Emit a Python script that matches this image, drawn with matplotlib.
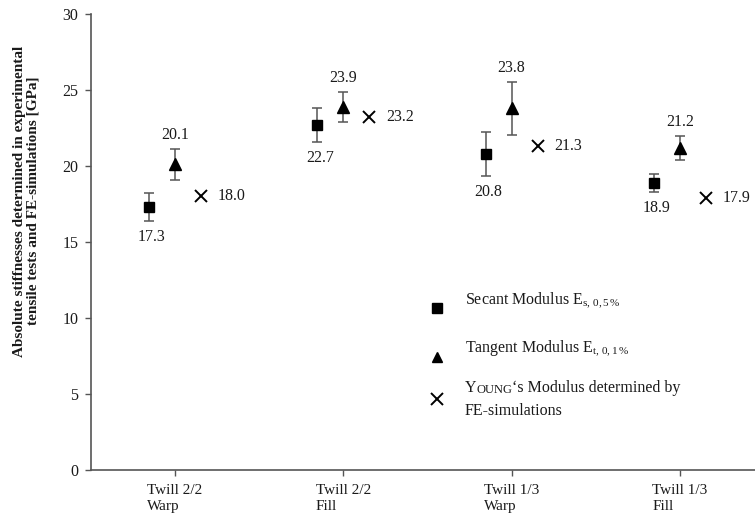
import matplotlib
matplotlib.use("Agg")
import matplotlib.pyplot as plt
import numpy as np

plt.rcParams['font.family'] = ['Liberation Serif', 'DejaVu Serif']
plt.rcParams['mathtext.fontset'] = 'custom'
plt.rcParams['mathtext.rm'] = 'Liberation Serif'
plt.rcParams['mathtext.it'] = 'Liberation Serif:italic'

# ---------------- data ----------------
categories = ["Twill 2/2\nWarp", "Twill 2/2\nFill", "Twill 1/3\nWarp", "Twill 1/3\nFill"]
secant = [17.3, 22.7, 20.8, 18.9]
secant_err = [0.9, 1.1, 1.45, 0.6]
tangent = [20.1, 23.9, 23.8, 21.2]
tangent_err = [1.05, 1.0, 1.75, 0.8]
young_fe = [18.0, 23.2, 21.3, 17.9]

# ---------------- layout ----------------
W, H = 755, 514
fig = plt.figure(figsize=(W / 100, H / 100), dpi=100)
ax = fig.add_axes([91 / W, 44 / H, (W - 91) / W, 456 / H])

group = np.arange(1, len(categories) + 1)
off = 0.155

ecol = '#555555'
ax.errorbar(group - off, secant, yerr=secant_err, fmt='s', color='black', ms=7,
            ecolor=ecol, elinewidth=1.1, capsize=3.5, capthick=1.1, zorder=3)
ax.errorbar(group, tangent, yerr=tangent_err, fmt='^', color='black', ms=9,
            ecolor=ecol, elinewidth=1.1, capsize=3.5, capthick=1.1, zorder=3)
ax.plot(group + off, young_fe, 'x', color='black', ms=9, mew=1.4, zorder=3)

lab_fs = 11.5
tcol = '#1a1a1a'
for xg, v, e in zip(group - off, secant, secant_err):
    ax.annotate(f"{v:.1f}", xy=(xg, v - e), xytext=(2, -11.5), textcoords='offset points',
                ha='center', va='center', fontsize=lab_fs, color=tcol)
for xg, v, e in zip(group, tangent, tangent_err):
    ax.annotate(f"{v:.1f}", xy=(xg, v + e), xytext=(0, 10), textcoords='offset points',
                ha='center', va='center', fontsize=lab_fs, color=tcol)
for xg, v in zip(group + off, young_fe):
    ax.annotate(f"{v:.1f}", xy=(xg, v), xytext=(12, 0), textcoords='offset points',
                ha='left', va='center', fontsize=lab_fs, color=tcol)

ax.set_xlim(0.501, 4.446)
ax.set_ylim(0, 30)
ax.set_yticks(np.arange(0, 31, 5))
ax.set_xticks(group)
ax.set_xticklabels(categories, fontsize=11, multialignment='left', linespacing=1.3, color=tcol)
ax.tick_params(axis='y', labelsize=11.5, length=4, width=1, color='#555555', pad=5, labelcolor=tcol)
ax.tick_params(axis='x', length=4, width=1, color='#555555', pad=6)

for s in ['top', 'right']:
    ax.spines[s].set_visible(False)
for s in ['left', 'bottom']:
    ax.spines[s].set_color('#555555')
    ax.spines[s].set_linewidth(1.2)

ax.set_ylabel("Absolute stiffnesses determined in experimental\ntensile tests and FE-simulations [GPa]",
              fontsize=11, fontweight='bold', linespacing=1.05, color=tcol)
ax.yaxis.set_label_coords(-0.077, 0.59)

# ---------------- legend (manual) ----------------
def fy(py):
    return (470 - py) / 456
def fx(px):
    return (px - 91) / 664

leg_fs = 11.5
mx = fx(437)
ax.plot([mx], [fy(308)], 's', color='black', ms=6.5, transform=ax.transAxes, clip_on=False)
ax.plot([mx], [fy(357)], '^', color='black', ms=7.5, transform=ax.transAxes, clip_on=False)
ax.plot([mx], [fy(399)], 'x', color='black', ms=9, mew=1.4, transform=ax.transAxes, clip_on=False)

tx = fx(465)
ax.text(tx, fy(300), r"Secant Modulus E$_{\mathrm{s,\,0,5\,\%}}$", transform=ax.transAxes,
        fontsize=leg_fs, va='center', ha='left', color=tcol)
ax.text(tx, fy(348), r"Tangent Modulus E$_{\mathrm{t,\,0,1\,\%}}$", transform=ax.transAxes,
        fontsize=leg_fs, va='center', ha='left', color=tcol)
t1 = ax.text(tx, fy(388), "Y", transform=ax.transAxes, fontsize=leg_fs, va='center',
             ha='left', color=tcol)
t2 = ax.annotate("OUNG", xy=(1, 0), xycoords=t1, fontsize=9, va='bottom', ha='left', color=tcol)
t3 = ax.annotate("\u2018s Modulus determined by", xy=(1, 0), xycoords=t2, fontsize=leg_fs,
                 va='bottom', ha='left', color=tcol)
ax.text(tx, fy(411), "FE-simulations", transform=ax.transAxes, fontsize=leg_fs, va='center',
        ha='left', color=tcol)

fig.savefig("out.png", dpi=100)
